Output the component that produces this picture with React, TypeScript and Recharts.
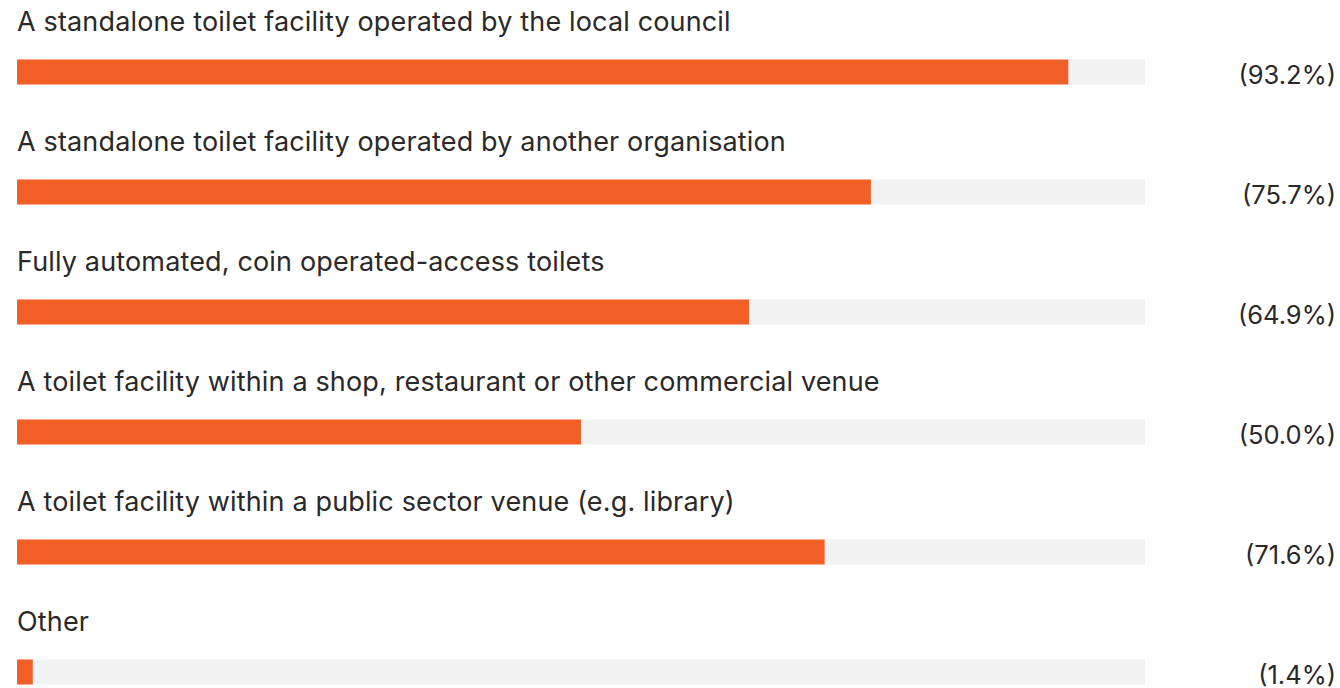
import React from 'react';
import { BarChart, Bar, XAxis, YAxis, LabelList } from 'recharts';

const categories = [
  'A standalone toilet facility operated by the local council',
  'A standalone toilet facility operated by another organisation',
  'Fully automated, coin operated-access toilets',
  'A toilet facility within a shop, restaurant or other commercial venue',
  'A toilet facility within a public sector venue (e.g. library)',
  'Other',
];

const values = [93.2, 75.7, 64.9, 50.0, 71.6, 1.4];

const data = categories.map((name, i) => ({ name, value: values[i] }));

const TEXT = '#2b2927';
const FONT = 'Inter, "Noto Sans", sans-serif';

const NameLabel = (props: any) => {
  const { x, y, value } = props;
  return (
    <text x={x} y={y - 29} fill={TEXT} fontSize={27} letterSpacing={0.15} fontFamily={FONT}>
      {value}
    </text>
  );
};

const ValueLabel = (props: any) => {
  const { y, value } = props;
  return (
    <text x={1336} y={y + 24} fill={TEXT} fontSize={25.5} fontFamily={FONT} textAnchor="end">
      {`(${Number(value).toFixed(1)}%)`}
    </text>
  );
};

export default function App() {
  return (
    <div style={{ position: 'fixed', left: 0, top: 0, width: 1340, height: 688, overflow: 'hidden', background: '#fff' }}>
      <BarChart
        layout="vertical"
        width={1340}
        height={740}
        data={data}
        margin={{ top: 11.5, right: 195, left: 17, bottom: 8.5 }}
      >
        <XAxis type="number" domain={[0, 100]} hide />
        <YAxis type="category" dataKey="name" hide />
        <Bar
          dataKey="value"
          fill="#f26028"
          barSize={25}
          background={{ fill: '#f2f2f2' }}
          isAnimationActive={false}
        >
          <LabelList dataKey="name" content={<NameLabel />} />
          <LabelList dataKey="value" content={<ValueLabel />} />
        </Bar>
      </BarChart>
    </div>
  );
}
